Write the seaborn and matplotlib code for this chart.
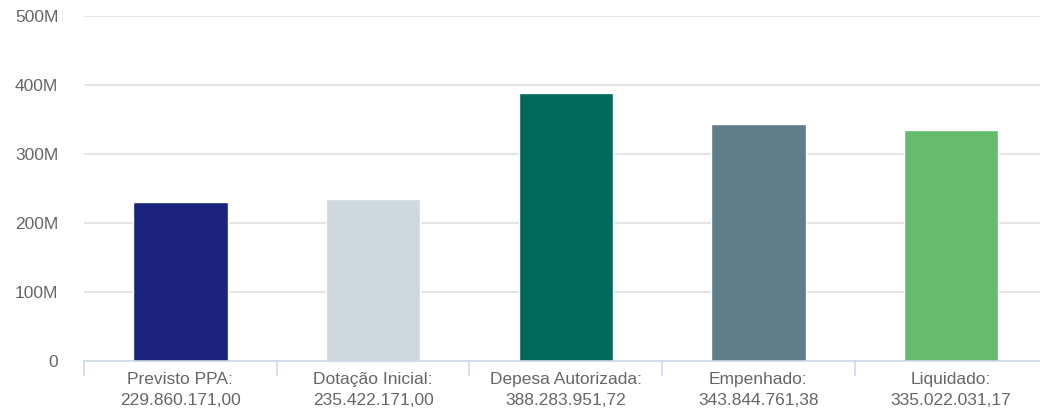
import matplotlib
matplotlib.use("Agg")
import matplotlib.pyplot as plt
import seaborn as sns
from matplotlib.ticker import FuncFormatter, FixedLocator

# Dados do gráfico
categorias = ["Previsto PPA:", "Dotação Inicial:", "Depesa Autorizada:", "Empenhado:", "Liquidado:"]
valores = [229860171.00, 235422171.00, 388283951.72, 343844761.38, 335022031.17]
cores = ["#1a237e", "#cfd8dc", "#00695c", "#607d8b", "#66bb6a"]
y_ticks = [0, 100e6, 200e6, 300e6, 400e6, 500e6]


def formato_br(v):
    s = f"{v:,.2f}"
    return s.replace(",", "X").replace(".", ",").replace("X", ".")


rotulos = [f"{c}\n{formato_br(v)}" for c, v in zip(categorias, valores)]

sns.set_style("white")
plt.rcParams["font.family"] = ["Liberation Sans", "DejaVu Sans"]

fig = plt.figure(figsize=(10.4, 4.15), dpi=100)
ax = fig.add_axes([84 / 1040, 54 / 415, 963.5 / 1040, 345 / 415])

sns.barplot(x=categorias, y=valores, hue=categorias, palette=cores,
            legend=False, width=0.49, saturation=1, ax=ax)

ax.set_xlim(-0.5, 4.5)
ax.set_ylim(0, 500e6)
ax.set_yticks(y_ticks)
ax.yaxis.set_major_formatter(FuncFormatter(lambda v, p: "0" if v == 0 else f"{int(v / 1e6)}M"))
ax.grid(axis="y", color="#dcdcdc", linewidth=1.1)
ax.set_axisbelow(True)

for lado in ["top", "right", "left"]:
    ax.spines[lado].set_visible(False)
ax.spines["bottom"].set_color("#ccd6eb")
ax.spines["bottom"].set_linewidth(1.1)

ax.set_xticks(range(len(categorias)))
ax.set_xticklabels(rotulos, linespacing=1.45)
ax.xaxis.set_minor_locator(FixedLocator([i - 0.5 for i in range(len(categorias) + 1)]))
ax.tick_params(axis="x", which="major", bottom=True, length=0, pad=8, labelsize=12.5, labelcolor="#666666")
ax.tick_params(axis="x", which="minor", bottom=True, length=11, width=1.1, color="#ccd6eb")
ax.tick_params(axis="y", length=0, pad=18.5, labelsize=12.5, labelcolor="#666666")
ax.set_xlabel("")
ax.set_ylabel("")

fig.savefig("out.png", dpi=100)
